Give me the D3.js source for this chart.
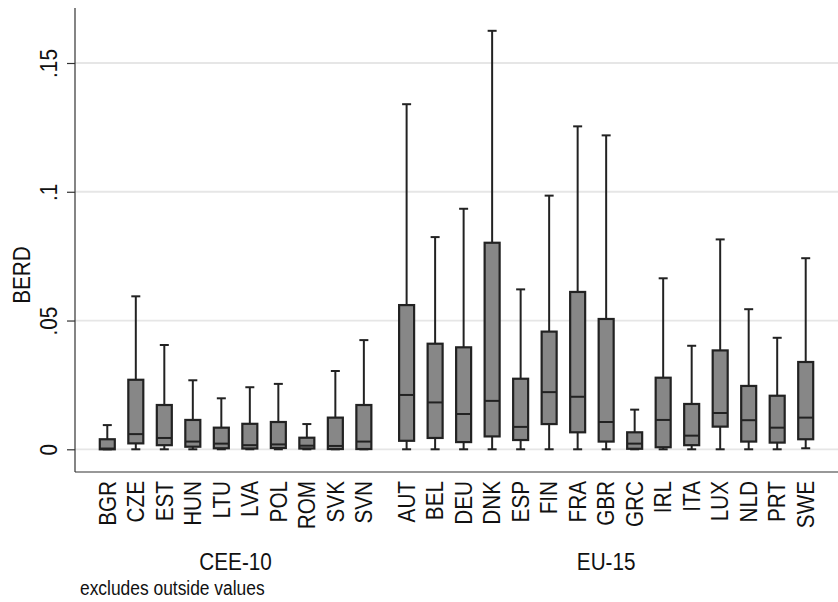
<!DOCTYPE html>
<html>
<head>
<meta charset="utf-8">
<script src="https://cdn.jsdelivr.net/npm/d3@7"></script>
<style>
  body { margin: 0; background: #fff; }
  svg { display: block; }
  text { font-family: "Liberation Sans", Arial, sans-serif; fill: #111; }
</style>
</head>
<body>
<div id="chart"></div>
<script>
// BERD box plot by country, two country groups
const groups = ['CEE-10', 'EU-15'];
const countries = ['BGR','CZE','EST','HUN','LTU','LVA','POL','ROM','SVK','SVN',
                   'AUT','BEL','DEU','DNK','ESP','FIN','FRA','GBR','GRC','IRL','ITA','LUX','NLD','PRT','SWE'];
const countryGroup = [0,0,0,0,0,0,0,0,0,0, 1,1,1,1,1,1,1,1,1,1,1,1,1,1,1];
const whiskerLow = [0,0,0,0,0,0,0,0,0,0, 0,0,0,0,0,0,0,0,0,0,0,0,0,0,0.0004];
const q1 = [0,0.0023,0.0016,0.001,0.0004,0.0003,0.0005,0.0003,0.0001,0.0001,
            0.0033,0.0044,0.0028,0.005,0.0036,0.0098,0.0066,0.003,0.0002,0.0008,0.0016,0.0088,0.003,0.0026,0.0039];
const median = [0.0003,0.0059,0.0044,0.003,0.0022,0.0016,0.0019,0.0014,0.0013,0.003,
                0.0211,0.0182,0.0137,0.0188,0.0087,0.0222,0.0204,0.0106,0.0022,0.0114,0.0053,0.0141,0.0113,0.0084,0.0123];
const q3 = [0.0039,0.027,0.0172,0.0114,0.0084,0.0099,0.0106,0.0045,0.0123,0.0172,
            0.056,0.041,0.0396,0.0802,0.0274,0.0457,0.0611,0.0506,0.0066,0.0278,0.0176,0.0384,0.0246,0.0208,0.0339];
const whiskerHigh = [0.0094,0.0594,0.0405,0.0268,0.0198,0.0241,0.0254,0.0098,0.0304,0.0424,
                     0.134,0.0824,0.0934,0.1625,0.0621,0.0985,0.1254,0.1219,0.0154,0.0664,0.0402,0.0815,0.0544,0.0433,0.0742];
const yTicks = [0, 0.05, 0.1, 0.15];
const yTickLabels = ['0', '.05', '.1', '.15'];

const width = 838, height = 602;
const plot = { left: 75, right: 838, top: 8, bottom: 472 };
const squeeze = 'scale(0.9,1)';   // text in the original is slightly condensed

const svg = d3.select('#chart').append('svg')
    .attr('width', width)
    .attr('height', height);

// slot index: EU group shifted by half a slot to leave the group gap
const slot = countries.map((c, i) => i + (countryGroup[i] === 1 ? 0.5 : 0));
const x = d3.scaleLinear().domain([-1.133, 25.633]).range([plot.left, plot.right]);
const y = d3.scaleLinear().domain([0, 0.15]).range([449.3, 63]);

// gridlines
svg.append('g')
  .selectAll('line')
  .data(yTicks)
  .join('line')
    .attr('x1', plot.left).attr('x2', plot.right)
    .attr('y1', d => y(d)).attr('y2', d => y(d))
    .attr('stroke', '#e6e6e6')
    .attr('stroke-width', 1.8);

// y axis
const yAxis = svg.append('g')
    .attr('transform', `translate(${plot.left},0)`)
    .call(d3.axisLeft(y).tickValues(yTicks).tickFormat((d, i) => yTickLabels[i]).tickSize(8));
yAxis.select('.domain').remove();
yAxis.selectAll('.tick line').attr('stroke', '#333').attr('stroke-width', 1.2);
yAxis.selectAll('.tick text')
    .attr('font-size', 23)
    .attr('font-family', '"Liberation Sans", Arial, sans-serif')
    .attr('fill', '#111')
    .attr('text-anchor', 'middle')
    .attr('transform', `translate(-18.5,0) rotate(-90) ${squeeze}`)
    .attr('x', 0)
    .attr('y', 0)
    .attr('dy', 0);

// frame lines
svg.append('line')
    .attr('x1', plot.left).attr('x2', plot.left)
    .attr('y1', plot.top).attr('y2', plot.bottom)
    .attr('stroke', '#333').attr('stroke-width', 1.2);
svg.append('line')
    .attr('x1', plot.left).attr('x2', plot.right)
    .attr('y1', plot.bottom).attr('y2', plot.bottom)
    .attr('stroke', '#333').attr('stroke-width', 1.2);

// boxes
const boxW = 15, capW = 9;
const ink = '#222';
const boxes = svg.append('g')
  .selectAll('g')
  .data(countries)
  .join('g')
    .attr('transform', (d, i) => `translate(${x(slot[i])},0)`);

boxes.append('line')
    .attr('x1', 0).attr('x2', 0)
    .attr('y1', (d, i) => y(whiskerHigh[i])).attr('y2', (d, i) => y(q3[i]))
    .attr('stroke', ink).attr('stroke-width', 2);
boxes.append('line')
    .attr('x1', 0).attr('x2', 0)
    .attr('y1', (d, i) => y(q1[i])).attr('y2', (d, i) => y(whiskerLow[i]))
    .attr('stroke', ink).attr('stroke-width', 2);
boxes.append('line')
    .attr('x1', -capW / 2).attr('x2', capW / 2)
    .attr('y1', (d, i) => y(whiskerHigh[i])).attr('y2', (d, i) => y(whiskerHigh[i]))
    .attr('stroke', ink).attr('stroke-width', 2);
boxes.append('line')
    .attr('x1', -capW / 2).attr('x2', capW / 2)
    .attr('y1', (d, i) => y(whiskerLow[i])).attr('y2', (d, i) => y(whiskerLow[i]))
    .attr('stroke', ink).attr('stroke-width', 2);
boxes.append('rect')
    .attr('x', -boxW / 2).attr('width', boxW)
    .attr('y', (d, i) => y(q3[i]))
    .attr('height', (d, i) => Math.max(y(q1[i]) - y(q3[i]), 0.5))
    .attr('fill', '#878787')
    .attr('stroke', ink).attr('stroke-width', 2.2);
boxes.append('line')
    .attr('x1', -boxW / 2).attr('x2', boxW / 2)
    .attr('y1', (d, i) => y(median[i])).attr('y2', (d, i) => y(median[i]))
    .attr('stroke', ink).attr('stroke-width', 2);

// category labels
boxes.append('text')
    .attr('transform', `translate(0,481) rotate(-90) ${squeeze}`)
    .attr('text-anchor', 'end')
    .attr('dy', '0.36em')
    .attr('font-size', 23)
    .text(d => d);

// group labels
groups.forEach((g, gi) => {
  const idx = slot.filter((s, i) => countryGroup[i] === gi);
  const cx = (x(d3.min(idx)) + x(d3.max(idx))) / 2;
  svg.append('text')
      .attr('transform', `translate(${cx},570) ${squeeze}`)
      .attr('text-anchor', 'middle')
      .attr('font-size', 23)
      .text(g);
});

// y title
svg.append('text')
    .attr('transform', `translate(30,275) rotate(-90) ${squeeze}`)
    .attr('text-anchor', 'middle')
    .attr('font-size', 23)
    .text('BERD');

// note
svg.append('text')
    .attr('transform', 'translate(80,595) scale(0.87,1)')
    .attr('font-size', 20)
    .text('excludes outside values');
</script>
</body>
</html>
